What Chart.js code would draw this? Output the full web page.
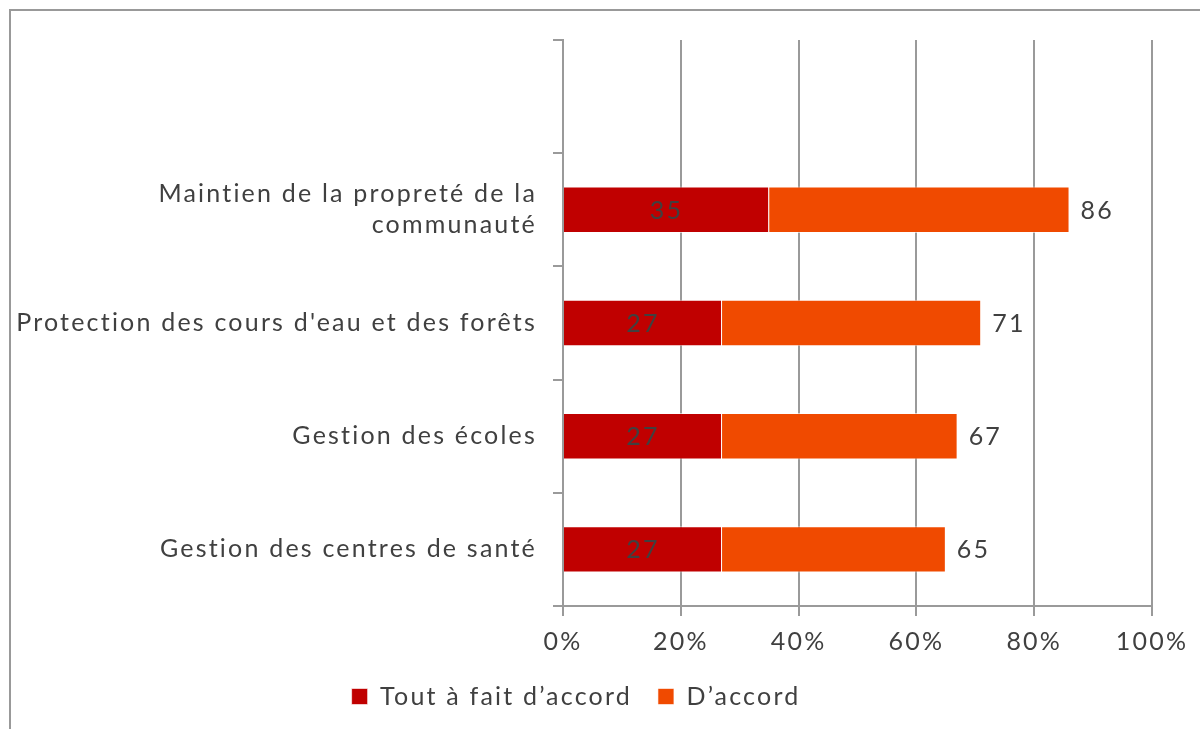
<!DOCTYPE html>
<html lang="fr">
<head>
<meta charset="utf-8">
<script src="https://cdn.jsdelivr.net/npm/chart.js@4"></script>
<style>
  html, body { margin: 0; padding: 0; background: #fff; overflow: hidden; }
  #wrap { position: relative; width: 1200px; height: 729px; }
  #frame { position: absolute; left: 9px; top: 9px; width: 1300px; height: 800px;
           border-left: 2px solid #999; border-top: 2px solid #999; }
  #chart { position: absolute; left: 0; top: 0; }
</style>
</head>
<body>
<div id="wrap">
  <div id="frame"></div>
  <canvas id="chart" width="1200" height="729"></canvas>
</div>
<script>
const categories = ['', ['Maintien de la propreté de la', 'communauté'], "Protection des cours d'eau et des forêts", 'Gestion des écoles', 'Gestion des centres de santé'];
const toutAFait = [null, 35, 27, 27, 27];
const dAccord   = [null, 51, 44, 40, 38];
const totals    = [null, 86, 71, 67, 65];
const xTicks    = [0, 20, 40, 60, 80, 100];

const FONT = "'Lato', sans-serif";
const FS = 25;
const SPACING = '2.2px';
const TEXT = '#404040';
const GRID = '#9a9a9a';

// wider letter spacing, closer to the original geometric face
const spacing = {
  id: 'spacing',
  beforeUpdate(chart) { chart.ctx.letterSpacing = SPACING; },
  beforeDraw(chart) { chart.ctx.letterSpacing = SPACING; },
};

// value labels: centred in first segment, total after the bar end
const valueLabels = {
  id: 'valueLabels',
  afterDatasetsDraw(chart) {
    const ctx = chart.ctx;
    ctx.save();
    ctx.font = `${FS}px ${FONT}`;
    ctx.fillStyle = TEXT;
    ctx.textBaseline = 'middle';
    const m0 = chart.getDatasetMeta(0);
    const m1 = chart.getDatasetMeta(1);
    toutAFait.forEach((v, i) => {
      if (v == null) return;
      const el = m0.data[i];
      ctx.textAlign = 'center';
      ctx.fillText(String(v), (el.x + el.base) / 2, el.y + 1);
      const e2 = m1.data[i];
      ctx.textAlign = 'left';
      ctx.fillText(String(totals[i]), e2.x + 11, e2.y + 1);
    });
    ctx.restore();
  }
};

new Chart(document.getElementById('chart'), {
  type: 'bar',
  data: {
    labels: categories,
    datasets: [
      { label: 'Tout à fait d’accord', data: toutAFait, backgroundColor: '#C00000',
        borderColor: 'rgba(255,255,255,0.6)', borderWidth: 1, barPercentage: 0.41, categoryPercentage: 1 },
      { label: 'D’accord', data: dAccord, backgroundColor: '#F04A00',
        borderColor: 'rgba(255,255,255,0.6)', borderWidth: 1, barPercentage: 0.41, categoryPercentage: 1 },
    ],
  },
  options: {
    indexAxis: 'y',
    responsive: false,
    animation: false,
    devicePixelRatio: 1,
    layout: { padding: { top: 40, right: 48, left: 0, bottom: 10 } },
    plugins: {
      legend: {
        position: 'bottom',
        labels: { color: TEXT, font: { family: FONT, size: FS }, boxWidth: 16, boxHeight: 16, padding: 26 },
      },
      tooltip: { enabled: false },
    },
    scales: {
      x: {
        stacked: true,
        min: 0, max: 100,
        afterBuildTicks: s => { s.ticks = xTicks.map(v => ({ value: v })); },
        afterFit: s => { s.height = 52; },
        ticks: { color: TEXT, font: { family: FONT, size: FS, lineHeight: 1.44 }, padding: 8, callback: v => v + '%' },
        grid: { color: GRID, lineWidth: 2, tickLength: 10 },
        border: { color: GRID, width: 2 },
      },
      y: {
        stacked: true,
        afterFit: s => { s.width = 563; },
        ticks: { color: TEXT, font: { family: FONT, size: FS, lineHeight: 1.25 }, padding: 16 },
        grid: { drawOnChartArea: false, color: GRID, lineWidth: 2, tickLength: 10 },
        border: { color: GRID, width: 2 },
      },
    },
  },
  plugins: [spacing, valueLabels],
});
</script>
</body>
</html>
